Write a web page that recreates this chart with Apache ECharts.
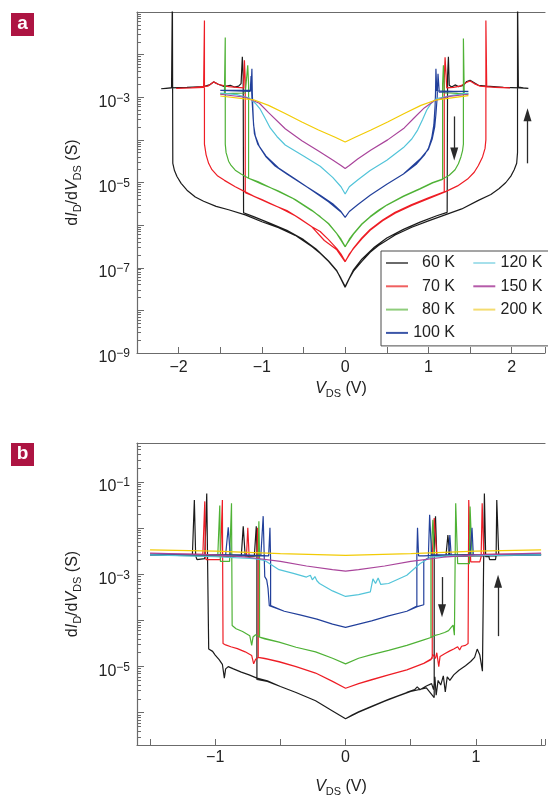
<!DOCTYPE html>
<html>
<head>
<meta charset="utf-8">
<script src="https://cdn.jsdelivr.net/npm/echarts@6/dist/echarts.min.js"></script>
<style>
  html, body { margin: 0; padding: 0; background: #fff; }
  #chart { width: 548px; height: 798px; }
</style>
</head>
<body>
<div id="chart"></div>
<script>
// every curve is a sweep path of [V_DS (V), log10 of dI/dV (S)] pairs
const temps = ['60 K', '70 K', '80 K', '100 K', '120 K', '150 K', '200 K'];

// panel a
const a60 = [
  [0,-7.46],[0.05,-7.25],[0.1,-7.08],[0.2,-6.85],[0.3,-6.64],[0.4,-6.48],[0.6,-6.23],[0.8,-6.05],[1.0,-5.9],[1.2,-5.76],[1.4,-5.62],[1.6,-5.42],[1.75,-5.28],[1.85,-5.14],[1.93,-5.0],[1.99,-4.85],[2.03,-4.7],[2.06,-4.55],[2.07,-4.3],
  [2.07,-0.5],[2.08,-2.76],[2.14,-2.78],[2.2,-2.79],
  [2.1,-2.78],[1.9,-2.77],[1.7,-2.74],[1.6,-2.72],[1.55,-2.66],[1.5,-2.6],[1.46,-2.63],[1.42,-2.72],[1.36,-2.75],[1.32,-2.71],[1.28,-2.76],[1.25,-2.72],[1.24,-2.05],[1.23,-2.5],[1.225,-5.7],
  [1.1,-5.78],[0.9,-5.93],[0.7,-6.1],[0.5,-6.3],[0.35,-6.52],[0.2,-6.8],[0.1,-7.05],[0,-7.44],
  [-0.05,-7.25],[-0.1,-7.08],[-0.2,-6.85],[-0.3,-6.66],[-0.4,-6.5],[-0.6,-6.24],[-0.8,-6.06],[-1.0,-5.92],[-1.2,-5.76],[-1.4,-5.64],[-1.55,-5.56],[-1.7,-5.44],[-1.8,-5.34],[-1.9,-5.18],[-1.97,-5.02],[-2.02,-4.86],[-2.05,-4.72],[-2.07,-4.55],
  [-2.075,-0.5],[-2.085,-2.78],[-2.15,-2.79],[-2.21,-2.8],
  [-2.1,-2.78],[-1.9,-2.77],[-1.7,-2.75],[-1.63,-2.71],[-1.58,-2.64],[-1.53,-2.69],[-1.45,-2.75],[-1.38,-2.72],[-1.33,-2.76],[-1.28,-2.74],[-1.25,-2.68],[-1.235,-2.05],[-1.225,-2.5],[-1.22,-5.71],
  [-1.1,-5.8],[-0.9,-5.96],[-0.7,-6.12],[-0.5,-6.34],[-0.35,-6.56],[-0.2,-6.84],[-0.1,-7.07],[0,-7.46]
];
const a70 = [
  [0,-6.86],[0.05,-6.68],[0.1,-6.55],[0.2,-6.32],[0.3,-6.12],[0.45,-5.9],[0.6,-5.72],[0.8,-5.54],[1.0,-5.38],[1.2,-5.22],[1.35,-5.08],[1.47,-4.92],[1.55,-4.76],[1.6,-4.6],[1.65,-4.4],[1.68,-4.2],[1.69,-4.0],
  [1.69,-1.2],[1.7,-2.76],[1.85,-2.77],[1.98,-2.78],
  [1.8,-2.77],[1.62,-2.74],[1.55,-2.68],[1.5,-2.62],[1.45,-2.66],[1.38,-2.74],[1.3,-2.77],[1.22,-2.78],[1.2,-2.06],[1.19,-2.6],[1.19,-5.22],
  [1.0,-5.36],[0.8,-5.52],[0.6,-5.7],[0.45,-5.88],[0.3,-6.1],[0.2,-6.3],[0.1,-6.54],[0,-6.85],
  [-0.05,-6.68],[-0.1,-6.55],[-0.2,-6.34],[-0.3,-6.15],[-0.4,-6.04],[-0.55,-5.84],[-0.7,-5.66],[-0.9,-5.5],[-1.1,-5.32],[-1.2,-5.22],[-1.32,-5.1],[-1.45,-4.95],[-1.53,-4.85],[-1.6,-4.7],[-1.64,-4.55],[-1.67,-4.35],[-1.69,-4.1],
  [-1.69,-1.2],[-1.7,-2.77],[-1.85,-2.78],[-2.03,-2.79],
  [-1.85,-2.78],[-1.65,-2.74],[-1.58,-2.64],[-1.52,-2.7],[-1.4,-2.75],[-1.3,-2.77],[-1.22,-2.78],[-1.21,-2.13],[-1.2,-2.6],[-1.2,-5.24],
  [-1.0,-5.4],[-0.8,-5.58],[-0.6,-5.78],[-0.4,-6.04],[-0.25,-6.36],[-0.1,-6.58],[0,-6.86]
];
const a80 = [
  [0,-6.51],[0.05,-6.33],[0.1,-6.2],[0.2,-5.97],[0.3,-5.8],[0.4,-5.65],[0.5,-5.53],[0.7,-5.32],[0.9,-5.14],[1.05,-5.0],[1.17,-4.92],[1.25,-4.83],[1.32,-4.7],[1.36,-4.56],[1.39,-4.4],[1.41,-4.25],[1.42,-4.1],
  [1.42,-1.62],[1.43,-2.92],[1.48,-2.92],
  [1.35,-2.91],[1.25,-2.9],[1.19,-2.9],[1.18,-2.25],[1.17,-2.7],[1.17,-4.93],
  [1.05,-5.01],[0.9,-5.15],[0.7,-5.33],[0.5,-5.53],[0.3,-5.81],[0.2,-5.98],[0.1,-6.21],[0,-6.5],
  [-0.05,-6.33],[-0.1,-6.2],[-0.2,-5.97],[-0.3,-5.8],[-0.4,-5.66],[-0.64,-5.36],[-0.92,-5.1],[-1.05,-4.98],[-1.16,-4.9],[-1.25,-4.8],[-1.32,-4.71],[-1.37,-4.6],[-1.4,-4.5],[-1.43,-4.3],[-1.44,-4.1],
  [-1.44,-1.6],[-1.45,-2.92],[-1.5,-2.92],
  [-1.35,-2.91],[-1.2,-2.9],[-1.17,-2.25],[-1.16,-2.7],[-1.16,-4.9],
  [-1.0,-5.04],[-0.8,-5.2],[-0.6,-5.4],[-0.4,-5.65],[-0.2,-5.96],[-0.1,-6.2],[0,-6.51]
];
const a100 = [
  [0,-5.82],[0.05,-5.68],[0.15,-5.52],[0.3,-5.3],[0.5,-5.04],[0.7,-4.8],[0.85,-4.58],[0.95,-4.36],[1.0,-4.2],[1.04,-3.95],[1.065,-3.65],[1.08,-3.2],[1.085,-2.9],[1.09,-2.33],[1.1,-2.85],[1.3,-2.86],[1.48,-2.86],
  [1.3,-2.87],[1.13,-2.88],[1.115,-2.45],[1.105,-3.0],[1.09,-3.4],[1.075,-3.7],[1.045,-3.98],[1.0,-4.22],[0.9,-4.45],[0.7,-4.8],[0.5,-5.04],[0.3,-5.3],[0.15,-5.52],[0.05,-5.68],[0,-5.82],
  [-0.05,-5.68],[-0.15,-5.5],[-0.3,-5.3],[-0.5,-5.05],[-0.7,-4.8],[-0.85,-4.6],[-0.95,-4.4],[-1.03,-4.16],[-1.08,-3.9],[-1.1,-3.65],[-1.11,-3.2],[-1.115,-2.9],[-1.12,-2.33],[-1.13,-2.84],[-1.3,-2.84],[-1.5,-2.84],
  [-1.3,-2.85],[-1.14,-2.86],[-1.13,-2.5],[-1.12,-3.0],[-1.105,-3.5],[-1.09,-3.85],[-1.05,-4.1],[-0.95,-4.38],[-0.8,-4.66],[-0.6,-4.92],[-0.4,-5.18],[-0.2,-5.45],[-0.05,-5.69],[0,-5.82]
];
const a120 = [
  [-1.5,-2.9],[-1.3,-2.94],[-1.15,-3.02],[-1.08,-3.14],[-1.02,-3.28],[-0.96,-3.5],[-0.9,-3.72],[-0.82,-3.92],[-0.72,-4.12],[-0.5,-4.38],[-0.3,-4.62],[-0.15,-4.88],[-0.05,-5.1],[0,-5.27],
  [0.05,-5.1],[0.15,-4.94],[0.3,-4.72],[0.5,-4.48],[0.7,-4.18],[0.8,-3.98],[0.87,-3.77],[0.93,-3.52],[0.98,-3.3],[1.03,-3.15],[1.1,-3.03],[1.3,-2.95],[1.48,-2.9]
];
const a150 = [
  [-1.5,-2.93],[-1.2,-3.0],[-1.03,-3.14],[-0.92,-3.36],[-0.72,-3.74],[-0.52,-4.02],[-0.32,-4.26],[-0.15,-4.47],[-0.05,-4.6],[0,-4.67],
  [0.05,-4.6],[0.15,-4.45],[0.31,-4.24],[0.51,-4.0],[0.71,-3.72],[0.83,-3.48],[0.95,-3.25],[1.07,-3.08],[1.25,-2.98],[1.48,-2.93]
];
const a200 = [
  [-1.5,-2.97],[-1.1,-3.06],[-0.92,-3.19],[-0.72,-3.38],[-0.52,-3.58],[-0.32,-3.77],[-0.12,-3.94],[0,-4.05],
  [0.12,-3.94],[0.31,-3.77],[0.51,-3.58],[0.71,-3.38],[0.91,-3.19],[1.1,-3.06],[1.48,-2.96]
];

// panel b
const b60 = [
  [0,-6.13],[0.05,-6.05],[0.1,-5.98],[0.2,-5.86],[0.33,-5.71],[0.47,-5.56],[0.53,-5.5],[0.55,-5.44],[0.57,-5.5],[0.62,-5.42],[0.66,-5.37],[0.675,-5.5],[0.685,-5.22],[0.695,-5.62],[0.71,-5.3],[0.73,-5.4],[0.75,-5.2],[0.765,-5.55],[0.78,-5.22],[0.8,-5.3],[0.83,-5.18],[0.87,-5.08],[0.92,-4.98],[0.96,-4.89],[0.99,-4.8],[1.01,-4.62],[1.03,-4.75],[1.05,-5.1],[1.06,-5.1],
  [1.065,-1.25],[1.075,-2.62],[1.1,-2.62],[1.105,-2.68],[1.15,-2.68],[1.155,-2.6],[1.16,-1.39],[1.175,-2.58],[1.3,-2.58],[1.5,-2.58],
  [1.3,-2.59],[1.0,-2.6],[0.8,-2.61],[0.785,-2.15],[0.77,-2.61],[0.7,-2.61],[0.69,-1.74],[0.68,-2.5],[0.68,-5.67],
  [0.62,-5.46],[0.5,-5.54],[0.4,-5.64],[0.3,-5.75],[0.2,-5.87],[0.1,-5.99],[0,-6.13],
  [-0.1,-5.96],[-0.23,-5.74],[-0.38,-5.56],[-0.5,-5.43],[-0.6,-5.31],[-0.68,-5.25],[-0.74,-5.18],[-0.8,-5.12],[-0.86,-5.05],[-0.9,-5.0],[-0.92,-5.05],[-0.93,-5.25],[-0.945,-4.95],[-0.97,-4.85],[-1.0,-4.75],[-1.02,-4.67],[-1.05,-4.62],[-1.06,-4.61],
  [-1.065,-1.25],[-1.08,-2.66],[-1.09,-2.68],[-1.14,-2.68],[-1.15,-2.6],[-1.16,-1.39],[-1.175,-2.58],[-1.3,-2.58],[-1.5,-2.58],
  [-1.3,-2.59],[-1.0,-2.6],[-0.8,-2.61],[-0.785,-1.96],[-0.77,-2.61],[-0.7,-2.61],[-0.685,-1.96],[-0.68,-2.5],[-0.68,-5.28],
  [-0.6,-5.32],[-0.5,-5.43],[-0.38,-5.56],[-0.23,-5.74],[-0.1,-5.96],[0,-6.13]
];
const b70 = [
  [0,-5.47],[0.1,-5.37],[0.2,-5.28],[0.33,-5.18],[0.47,-5.07],[0.6,-4.93],[0.655,-4.85],[0.67,-4.74],[0.69,-4.82],[0.7,-4.7],[0.705,-4.72],[0.715,-5.0],[0.725,-4.78],[0.76,-4.72],[0.8,-4.66],[0.83,-4.62],[0.86,-4.57],[0.875,-4.64],[0.89,-4.56],[0.92,-4.54],[0.94,-4.5],
  [0.945,-1.39],[0.96,-2.73],[1.03,-2.73],[1.04,-2.62],[1.048,-1.46],[1.06,-2.57],[1.5,-2.56],
  [1.2,-2.57],[0.9,-2.58],[0.7,-2.6],[0.68,-1.78],[0.665,-2.6],[0.665,-4.82],
  [0.6,-4.93],[0.47,-5.07],[0.33,-5.18],[0.2,-5.29],[0.1,-5.37],[0,-5.47],
  [-0.1,-5.32],[-0.23,-5.14],[-0.38,-5.0],[-0.51,-4.89],[-0.62,-4.82],[-0.67,-4.8],[-0.69,-4.84],[-0.705,-4.94],[-0.72,-4.76],[-0.77,-4.68],[-0.83,-4.61],[-0.88,-4.57],[-0.92,-4.53],[-0.94,-4.5],
  [-0.945,-1.39],[-0.96,-2.68],[-1.07,-2.68],[-1.075,-2.6],[-1.08,-1.42],[-1.095,-2.57],[-1.5,-2.56],
  [-1.2,-2.57],[-0.9,-2.58],[-0.76,-2.6],[-0.75,-1.99],[-0.74,-2.6],[-0.68,-2.6],[-0.675,-1.99],[-0.67,-2.6],[-0.67,-4.8],
  [-0.6,-4.84],[-0.51,-4.9],[-0.38,-5.0],[-0.23,-5.14],[-0.1,-5.32],[0,-5.47]
];
const b80 = [
  [0,-4.94],[0.1,-4.82],[0.2,-4.74],[0.33,-4.65],[0.47,-4.54],[0.6,-4.42],[0.655,-4.37],[0.68,-4.33],[0.72,-4.3],[0.76,-4.26],[0.79,-4.22],[0.81,-4.15],[0.825,-4.1],[0.835,-4.32],[0.84,-4.28],
  [0.845,-1.46],[0.86,-2.77],[0.95,-2.77],[0.955,-1.53],[0.97,-2.58],[1.5,-2.57],
  [1.2,-2.58],[0.9,-2.59],[0.68,-2.6],[0.67,-1.82],[0.655,-2.6],[0.655,-4.37],
  [0.6,-4.42],[0.47,-4.54],[0.33,-4.65],[0.2,-4.74],[0.1,-4.82],[0,-4.94],
  [-0.1,-4.82],[-0.23,-4.68],[-0.38,-4.58],[-0.51,-4.47],[-0.62,-4.4],[-0.66,-4.36],[-0.69,-4.31],[-0.71,-4.36],[-0.72,-4.54],[-0.735,-4.33],[-0.79,-4.24],[-0.84,-4.18],[-0.87,-4.11],
  [-0.875,-1.46],[-0.89,-2.72],[-0.96,-2.72],[-0.965,-1.51],[-0.98,-2.58],[-1.5,-2.57],
  [-1.2,-2.58],[-0.9,-2.59],[-0.67,-2.6],[-0.665,-1.85],[-0.66,-2.6],[-0.66,-4.36],
  [-0.51,-4.47],[-0.38,-4.58],[-0.23,-4.68],[-0.1,-4.82],[0,-4.94]
];
const b100 = [
  [0,-4.15],[0.1,-4.08],[0.2,-4.01],[0.33,-3.9],[0.47,-3.8],[0.55,-3.7],[0.6,-3.66],
  [0.6,-2.7],[0.635,-2.65],[0.645,-1.71],[0.66,-2.58],[0.8,-2.58],[1.0,-2.58],[1.5,-2.58],
  [1.2,-2.58],[0.98,-2.58],[0.97,-1.99],[0.955,-2.58],[0.81,-2.58],[0.8,-2.15],[0.79,-2.58],[0.6,-2.6],[0.56,-2.6],[0.552,-1.99],[0.547,-2.6],[0.547,-3.69],
  [0.47,-3.8],[0.33,-3.9],[0.2,-4.01],[0.1,-4.08],[0,-4.15],
  [-0.1,-4.08],[-0.22,-3.97],[-0.35,-3.88],[-0.47,-3.8],[-0.575,-3.68],
  [-0.575,-2.7],[-0.58,-1.99],[-0.59,-2.6],[-0.8,-2.58],[-1.2,-2.58],[-1.5,-2.58],
  [-1.2,-2.58],[-0.92,-2.58],[-0.9,-1.98],[-0.885,-2.58],[-0.65,-2.6],[-0.632,-1.74],[-0.62,-3.05],[-0.605,-3.12],[-0.595,-3.3],[-0.585,-3.68],
  [-0.47,-3.8],[-0.35,-3.88],[-0.22,-3.97],[-0.1,-4.08],[0,-4.15]
];
const b120 = [
  [-1.5,-2.58],[-1.0,-2.62],[-0.7,-2.66],[-0.62,-2.7],[-0.51,-2.9],[-0.4,-2.98],[-0.3,-3.06],[-0.27,-3.02],[-0.255,-3.12],[-0.235,-3.05],[-0.22,-3.14],[-0.2,-3.2],[-0.15,-3.28],[-0.1,-3.36],[0,-3.48],
  [0.1,-3.44],[0.19,-3.38],[0.21,-3.1],[0.23,-3.2],[0.25,-3.08],[0.27,-3.22],[0.33,-3.2],[0.47,-3.02],[0.57,-2.77],[0.65,-2.63],[0.8,-2.6],[1.5,-2.58]
];
const b150 = [
  [-1.5,-2.54],[-1.0,-2.58],[-0.75,-2.63],[-0.5,-2.72],[-0.3,-2.82],[-0.1,-2.9],[0,-2.93],
  [0.1,-2.9],[0.3,-2.82],[0.5,-2.72],[0.75,-2.63],[1.0,-2.58],[1.5,-2.54]
];
const b200 = [
  [-1.5,-2.47],[-1.0,-2.5],[-0.5,-2.55],[0,-2.59],[0.5,-2.55],[1.0,-2.5],[1.5,-2.47]
];

// sweep-direction arrows, [V, log10 start, log10 end]
const arrowsA = [[1.31, -3.45, -4.33], [2.19, -4.55, -3.41]];
const arrowsB = [[0.74, -3.06, -3.79], [1.17, -4.34, -3.15]];

const xTicksA = [-2, -1, 0, 1, 2];
const xTicksB = [-1, 0, 1];
const yTicksA = [-9, -7, -5, -3];
const yTicksB = [-5, -3, -1];

const colors = ['#1c1c1c', '#ee1d25', '#4fb236', '#22409b', '#52c4d9', '#a9449b', '#f2cb05'];
const legendColors = ['#6a6a6a', '#f06060', '#8fcd7c', '#3c56a8', '#a6e0eb', '#b55ba9', '#f4dc70'];
const font = "'Liberation Sans', Arial, Helvetica, sans-serif";
const ink = '#222';
const axisGrey = '#6b6b6b';

const chart = echarts.init(document.getElementById('chart'));

function toData(path) {
  return path.map(p => [p[0], Math.pow(10, p[1])]);
}

function xLabel(ticks) {
  return function (v) {
    const r = Math.round(v);
    if (Math.abs(v - r) > 1e-6 || ticks.indexOf(r) < 0) return '';
    return r < 0 ? '\u2212' + (-r) : '' + r;
  };
}

function logLabel(ticks) {
  return function (v) {
    const e = Math.log10(v);
    const r = Math.round(e);
    if (Math.abs(e - r) > 1e-6 || ticks.indexOf(r) < 0) return '';
    return '10{sup|' + (r < 0 ? '\u2212' : '') + Math.abs(r) + '}';
  };
}

const nameRich = {
  n: { fontSize: 16, fontFamily: font, color: ink },
  i: { fontSize: 16, fontFamily: font, color: ink, fontStyle: 'italic' },
  s: { fontSize: 11, fontFamily: font, color: ink, lineHeight: 9, verticalAlign: 'bottom' }
};

function xAxisFor(grid, min, max, interval, ticks, margin, gap) {
  const ax = {
    type: 'value', gridIndex: grid, min: min, max: max,
    axisLine: { show: true, onZero: false, lineStyle: { color: axisGrey, width: 1.2 } },
    axisTick: { show: true, inside: true, length: 6, lineStyle: { color: axisGrey } },
    splitLine: { show: false },
    axisLabel: { formatter: xLabel(ticks), fontSize: 16, fontFamily: font, color: ink, margin: margin, showMinLabel: true, showMaxLabel: true },
    name: '{i|V}{s|DS}{n| (V)}', nameLocation: 'middle', nameGap: gap,
    nameTextStyle: { fontSize: 16, lineHeight: 20, fontFamily: font, color: ink, rich: nameRich }
  };
  if (interval) ax.interval = interval; else ax.splitNumber = 6;
  return ax;
}

function topLine(grid, min, max) {
  return {
    type: 'value', gridIndex: grid, position: 'top', min: min, max: max,
    axisLine: { show: true, onZero: false, lineStyle: { color: axisGrey, width: 1.2 } },
    axisTick: { show: false }, axisLabel: { show: false }, splitLine: { show: false }
  };
}

function yAxisFor(grid, min, max, ticks) {
  return {
    type: 'log', logBase: 10, gridIndex: grid, min: min, max: max,
    axisLine: { show: true, onZero: false, lineStyle: { color: axisGrey, width: 1.2 } },
    axisTick: { show: true, inside: true, length: 7, lineStyle: { color: axisGrey } },
    minorTick: { show: true, splitNumber: 9, length: 4, lineStyle: { color: axisGrey } },
    splitLine: { show: false }, minorSplitLine: { show: false },
    axisLabel: {
      formatter: logLabel(ticks), fontSize: 16, lineHeight: 20, fontFamily: font, color: ink,
      margin: 7, padding: [10, 0, 0, 0], showMinLabel: true, showMaxLabel: true,
      rich: { sup: { fontSize: 12, lineHeight: 14, verticalAlign: 'top', fontFamily: font, color: ink } }
    },
    name: '{n|d}{i|I}{s|D}{n|/d}{i|V}{s|DS}{n| (S)}', nameLocation: 'middle', nameGap: 54, nameRotate: 90,
    nameTextStyle: { fontSize: 16, lineHeight: 20, fontFamily: font, color: ink, rich: nameRich }
  };
}

function arrowSeries(grid, list) {
  return {
    type: 'line', xAxisIndex: grid, yAxisIndex: grid, data: [], silent: true,
    markLine: {
      silent: true, animation: false,
      symbol: ['none', 'triangle'], symbolSize: [8, 13],
      label: { show: false },
      lineStyle: { color: '#2a2a2a', width: 1.3, type: 'solid' },
      emphasis: { disabled: true },
      data: list.map(a => [
        { coord: [a[0], Math.pow(10, a[1])] },
        { coord: [a[0], Math.pow(10, a[2])] }
      ])
    }
  };
}

const panelA = [a60, a70, a80, a100, a120, a150, a200];
const panelB = [b60, b70, b80, b100, b120, b150, b200];

const series = [];
[panelA, panelB].forEach(function (panel, g) {
  panel.forEach(function (path, i) {
    series.push({
      type: 'line', name: temps[i], xAxisIndex: g, yAxisIndex: g,
      data: toData(path), showSymbol: false, symbol: 'none', clip: true,
      lineStyle: { width: 1.2, color: colors[i] },
      itemStyle: { color: colors[i] },
      emphasis: { disabled: true }
    });
  });
});
series.push(arrowSeries(0, arrowsA));
series.push(arrowSeries(1, arrowsB));

chart.setOption({
  animation: false,
  backgroundColor: '#fff',
  grid: [
    { left: 137, top: 12, width: 411, height: 341 },
    { left: 137, top: 443, width: 411, height: 308 }
  ],
  xAxis: [
    xAxisFor(0, -2.5, 2.4, 0.5, xTicksA, 7, 26),
    xAxisFor(1, -1.6, 1.53, null, xTicksB, 5, 32),
    topLine(0, -2.5, 2.4),
    topLine(1, -1.6, 1.53)
  ],
  yAxis: [
    yAxisFor(0, 1e-9, 1e-1, yTicksA),
    yAxisFor(1, 2e-7, 0.7, yTicksB)
  ],
  legend: {
    data: temps.map((t, i) => ({ name: t, itemStyle: { color: legendColors[i] } })),
    orient: 'vertical', left: 381, top: 251, height: 92,
    padding: [2, 0, 3, 5], itemGap: 3.3, itemWidth: 22, itemHeight: 2, icon: 'rect',
    borderColor: '#4a4a4a', borderWidth: 1, selectedMode: false,
    formatter: '{t|{name}}',
    textStyle: {
      fontSize: 16, fontFamily: font, color: ink, lineHeight: 20,
      rich: { t: { fontSize: 16, fontFamily: font, color: ink, width: 42, align: 'right', lineHeight: 20, padding: [0, 15, 0, 0] } }
    }
  },
  graphic: [
    { type: 'rect', left: 11, top: 13, shape: { width: 23, height: 23 }, style: { fill: '#ad1442' }, silent: true },
    { type: 'text', x: 22.5, y: 23.5, style: { text: 'a', fill: '#fff', font: 'bold 19px ' + font, align: 'center', verticalAlign: 'middle' }, silent: true },
    { type: 'rect', left: 11, top: 443, shape: { width: 23, height: 23 }, style: { fill: '#ad1442' }, silent: true },
    { type: 'text', x: 22.5, y: 454, style: { text: 'b', fill: '#fff', font: 'bold 19px ' + font, align: 'center', verticalAlign: 'middle' }, silent: true }
  ],
  series: series
});
</script>
</body>
</html>
